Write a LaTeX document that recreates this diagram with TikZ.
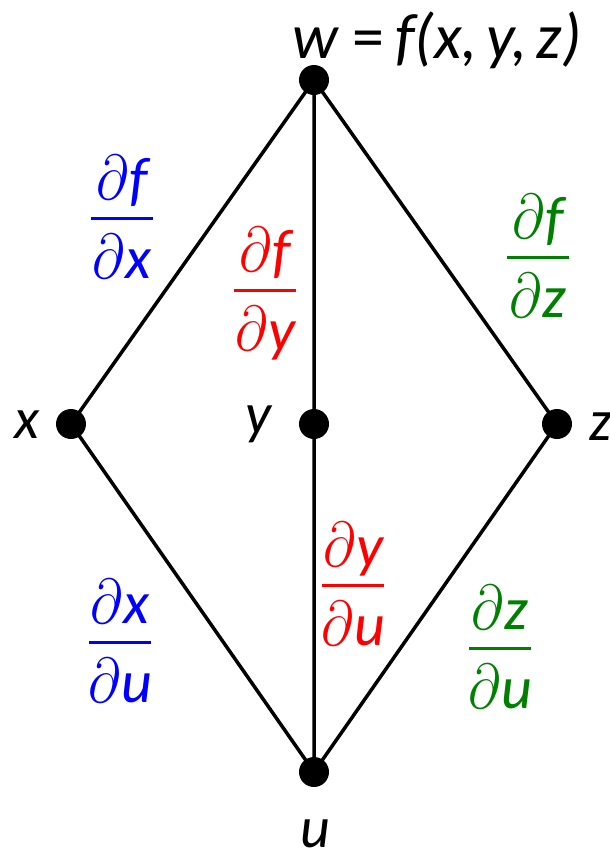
\documentclass[tikz,border=0pt]{standalone}
\usepackage{fontspec}
\usepackage{graphicx}
\setmainfont{Carlito}
\usetikzlibrary{calc}
\definecolor{pblue}{RGB}{0,0,255}
\definecolor{pred}{RGB}{255,0,0}
\definecolor{pgreen}{RGB}{0,128,0}
\newcommand\pd{\scalebox{2.25}[2.55]{$\partial$}\hspace{1pt}}
\newcommand\pfrac[6]{% name, x, y(rule), colour, num, den
  \coordinate (#1) at (#2,#3);
  \node[fracpart,text=#4] (#1num) at ($(#1)+(0,-19)$) {#5};
  \node[fracpart,text=#4] (#1den) at ($(#1)+(0,60)$) {#6};
  \draw[#4,line width=3pt] ($(#1)+(-31,0)$) -- ($(#1)+(31,0)$);
}
\begin{document}
\begin{tikzpicture}[x=1pt,y=-1pt,
  dot/.style={circle,fill=black,inner sep=0pt,minimum size=30pt},
  edge/.style={line width=3.5pt},
  fracpart/.style={anchor=base,inner sep=0pt,font=\fontsize{60}{70}\selectfont\itshape},
  lbl/.style={anchor=base,inner sep=0pt,font=\fontsize{58}{70}\selectfont\itshape},
  ttl/.style={anchor=base,inner sep=0pt,font=\fontsize{64}{70}\selectfont\itshape}]
\useasboundingbox (0,0) rectangle (610,849);
\node[dot] (w) at (314,80) {};
\node[dot] (x) at (71,424) {};
\node[dot] (y) at (314,424) {};
\node[dot] (z) at (557,424) {};
\node[dot] (u) at (314,772) {};
\draw[edge] (w.center) -- (x.center) -- (u.center) -- (z.center) -- (w.center) -- (y.center) -- (u.center);
\node[ttl] (wl) at (437,58) {w\hspace{14pt}{\upshape =}\hspace{11pt}f(x,\hspace{9pt}y,\hspace{9pt}z)};
\node[lbl] (xl) at (27,438) {x};
\node[lbl] (yl) at (258,433) {y};
\node[lbl] (zl) at (601,440) {z};
\node[lbl] (ul) at (315,847) {u};
\pfrac{fx}{122}{218}{pblue}{\pd f}{\pd x}
\pfrac{fy}{265}{290}{pred}{\pd f}{\pd y}
\pfrac{fz}{538}{257}{pgreen}{\pd f}{\pd z}
\pfrac{xu}{120}{642}{pblue}{\pd x}{\pd u}
\pfrac{yu}{353}{585}{pred}{\pd y}{\pd u}
\pfrac{zu}{500}{648}{pgreen}{\pd z}{\pd u}
\end{tikzpicture}
\end{document}
